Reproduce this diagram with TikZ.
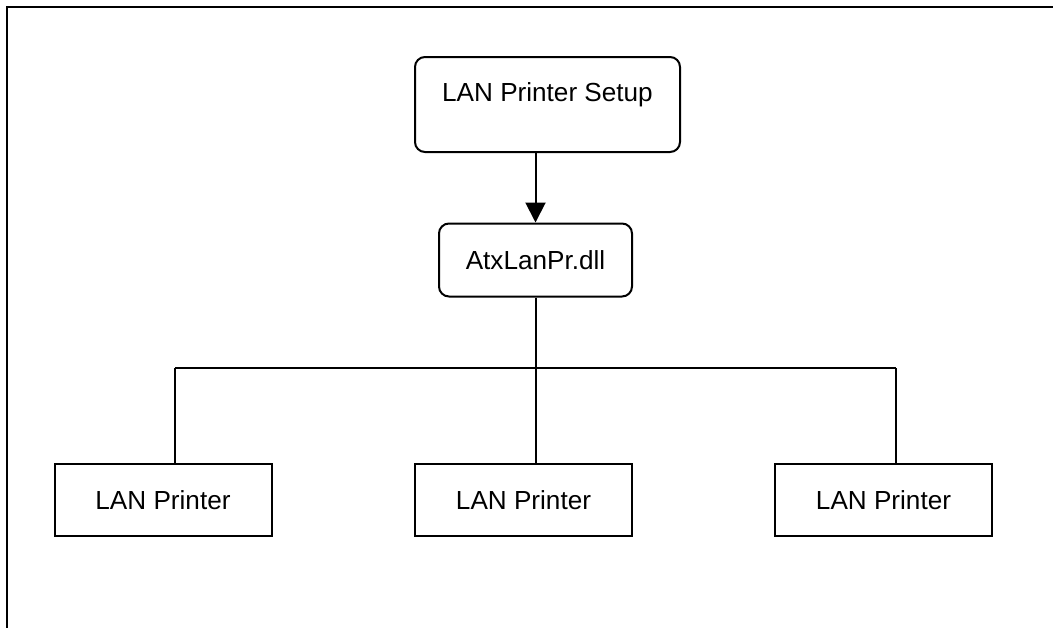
\documentclass[tikz,border=0pt]{standalone}
\usepackage{fontspec}
\setmainfont{Liberation Sans}
\usetikzlibrary{arrows.meta}
\def\px{0.75pt}
\newcommand\boxfont{\fontsize{19.6}{23}\selectfont}

\begin{document}
\begin{tikzpicture}[x=0.75pt,y=-0.75pt,line width=1.5pt]
  \useasboundingbox (0,0) rectangle (1053,628);

  % frame, only the top and left sides show
  \draw[line width=2.2pt] (7,628) -- (7,7) -- (1053,7);

  \tikzstyle{rbox}=[draw,rectangle,rounded corners=7.5pt,font=\boxfont,inner sep=0pt]
  \tikzstyle{pbox}=[draw,rectangle,font=\boxfont,inner sep=0pt,minimum width=217*\px,minimum height=72*\px]

  \node[rbox,minimum width=265*\px,minimum height=95*\px,text height=14pt,text depth=18.3pt] (setup) at (547.5,104.5) {LAN Printer Setup};
  \node[rbox,minimum width=193*\px,minimum height=73*\px] (dll) at (535.5,260) {AtxLanPr.dll};

  \foreach \name/\x in {pl/163, pm/523.5, pr/883.5}
    \node[pbox] (\name) at (\x,500) {LAN Printer};

  \draw[-{Triangle[width=15pt,length=15pt]}] (setup.south -| dll) -- (dll.north);

  % bus to the printers
  \foreach \name/\x in {pl/175, pm/535.5, pr/896}
    \coordinate (bus-\name) at (\x,368);
  \draw (dll.south) -- (bus-pm);
  \draw (bus-pl) -- (bus-pr);
  \foreach \name in {pl,pm,pr}
    \draw (bus-\name) -- (bus-\name |- \name.north);
\end{tikzpicture}
\end{document}
